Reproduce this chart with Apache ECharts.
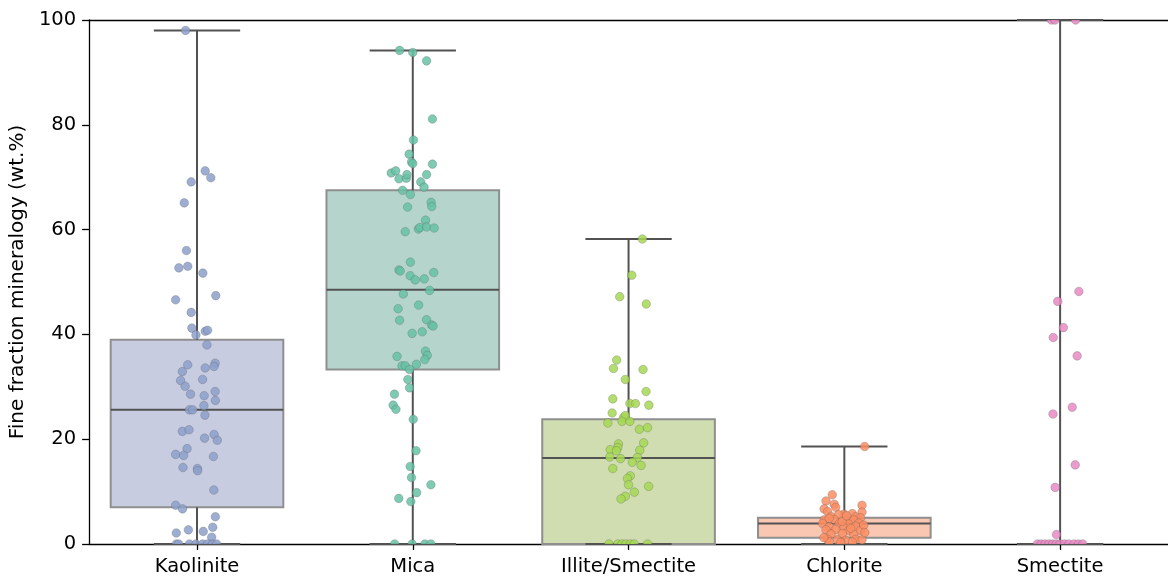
<!DOCTYPE html>
<html>
<head>
<meta charset="utf-8">
<script src="https://cdn.jsdelivr.net/npm/echarts@6/dist/echarts.min.js"></script>
<style>
html,body{margin:0;padding:0;background:#fff;}
#chart{width:1168px;height:577px;}
</style>
</head>
<body>
<div id="chart"></div>
<script>
const categories = ['Kaolinite', 'Mica', 'Illite/Smectite', 'Chlorite', 'Smectite'];
const yTicks = [0, 20, 40, 60, 80, 100];

// box statistics (whiskers at min / max)
const whiskerLow  = [0, 0, 0, 0, 0];
const q1          = [7.0, 33.3, 0, 1.2, 0];
const medians     = [25.6, 48.5, 16.4, 3.9, 0];
const q3          = [39.0, 67.5, 23.8, 5.0, 0];
const whiskerHigh = [98.0, 94.2, 58.2, 18.6, 100];

// individual samples (values) and their strip jitter (category units)
const kaoliniteValues = [98.0,71.2,69.9,69.1,65.1,56.0,52.7,53.0,51.7,47.4,46.6,44.2,41.2,40.6,40.8,39.9,38.0,34.2,34.5,33.6,33.9,32.9,31.2,31.4,30.1,28.6,28.3,29.1,27.4,26.4,25.6,25.6,24.6,21.5,21.8,20.2,20.9,19.8,18.2,17.1,16.9,16.7,14.6,14.4,14.0,10.3,7.4,6.7,5.2,3.2,2.1,2.7,2.4,1.3,0,0,0,0,0,0,0,0];
const kaoliniteJitter = [-0.053,0.038,0.064,-0.027,-0.059,-0.049,-0.084,-0.043,0.027,0.087,-0.099,-0.027,-0.024,0.038,0.049,-0.005,0.046,-0.043,0.084,0.038,0.079,-0.068,-0.076,0.026,-0.055,-0.030,0.033,0.084,0.085,0.032,-0.035,-0.020,0.037,-0.068,-0.037,0.035,0.079,0.094,-0.046,-0.099,-0.062,0.076,-0.065,0.002,0.003,0.078,-0.099,-0.067,0.085,0.073,-0.096,-0.040,0.029,0.068,-0.096,-0.085,-0.035,-0.005,0.026,0.049,0.072,0.091];

const micaValues = [94.2,93.8,92.2,81.1,77.1,74.4,72.9,72.6,72.5,70.8,71.2,69.7,69.8,70.5,70.5,69.1,68.1,67.5,66.7,64.3,65.2,64.4,61.8,59.6,60.1,60.4,60.5,60.3,53.8,52.3,52.1,51.2,50.4,50.6,51.8,47.7,48.4,44.9,45.6,42.7,42.8,41.8,41.6,40.2,40.5,36.8,36.0,35.8,35.2,34.0,34.0,34.3,33.3,31.4,29.8,28.6,26.5,25.7,23.8,17.8,14.8,12.7,11.3,9.8,8.7,8.1,0,0,0,0];
const micaJitter = [-0.061,0,0.064,0.091,0.003,-0.017,-0.006,0,0.091,-0.100,-0.079,-0.064,-0.030,-0.027,0.064,0.037,0.052,-0.047,-0.011,-0.024,0.085,0.088,0.059,-0.035,0.026,0.033,0.064,0.099,-0.011,-0.064,-0.058,-0.012,0.011,0.053,0.097,-0.044,0.078,-0.068,0.027,-0.061,0.064,0.087,0.094,-0.003,0.044,0.059,0.067,-0.073,0.056,-0.050,-0.035,0.017,-0.015,-0.023,-0.015,-0.085,-0.091,-0.078,0.002,0.015,-0.012,-0.006,0.084,0.018,-0.065,-0.009,-0.084,-0.003,0.056,0.084];

const illiteSmectiteValues = [58.2,51.3,47.2,45.8,35.1,33.5,33.3,31.4,29.1,27.7,26.8,26.8,26.5,25.0,24.1,24.5,23.1,23.4,23.4,21.9,22.2,19.1,18.4,19.3,18.0,17.8,17.9,16.6,16.3,16.5,15.6,15.0,14.4,13.0,12.5,11.3,11.0,9.9,9.1,8.6,0,0,0,0,0,0,0];
const illiteSmectiteJitter = [0.064,0.015,-0.041,0.082,-0.055,-0.070,0.067,-0.015,0.081,-0.073,0.006,0.032,0.094,-0.076,-0.024,-0.015,-0.096,-0.030,0.006,0.050,0.088,-0.047,-0.050,0.070,-0.085,-0.056,0.052,-0.087,-0.037,0.041,0.017,0.058,-0.073,0.008,-0.005,0,0.093,0.027,-0.015,-0.035,-0.091,-0.050,-0.030,-0.012,0.008,0.026,0.088];

const chloriteValues = [18.6,9.4,8.2,7.6,7.0,7.4,6.7,6.2,6.1,5.7,5.8,5.6,5.3,5.2,5.0,4.6,4.7,4.5,4.6,3.9,3.9,3.8,4.0,3.3,3.2,3.4,2.7,2.8,2.6,2.6,1.9,2.0,1.8,0.9,0.8,0.7,0.9,0.8,0.4,0.3,0.4,4.3,3.6,2.2,1.2,5.4,4.9,3.0];
const chloriteJitter = [0.094,-0.056,-0.085,-0.047,-0.040,0.082,-0.094,-0.078,0.082,-0.002,0.037,-0.027,-0.062,0.052,0.075,-0.093,-0.047,0.014,0.044,-0.101,-0.024,0.021,0.067,-0.070,-0.002,0.052,-0.085,-0.040,0.021,0.075,-0.062,-0.009,0.044,-0.078,-0.032,0.006,0.052,0.082,-0.070,-0.017,0.037,-0.010,0.090,0.095,-0.095,0.010,-0.070,0.030];

const smectiteValues = [100,100,100,48.2,46.3,41.3,39.4,35.9,26.1,24.8,15.1,10.8,1.8,0,0,0,0,0,0,0,0,0,0,0,0];
const smectiteJitter = [-0.040,-0.024,0.072,0.087,-0.011,0.015,-0.032,0.079,0.056,-0.033,0.070,-0.023,-0.017,-0.105,-0.088,-0.070,-0.052,-0.035,-0.018,0,0.020,0.040,0.065,0.085,0.105];

const pointValues = [kaoliniteValues, micaValues, illiteSmectiteValues, chloriteValues, smectiteValues];
const pointJitter = [kaoliniteJitter, micaJitter, illiteSmectiteJitter, chloriteJitter, smectiteJitter];

const pointColors = ['#8da0cb', '#66c2a5', '#a6d854', '#fc8d62', '#e78ac3'];
const boxFills = ['#c7cce0', '#b5d5cc', '#d0ddb1', '#f9c7b2', '#f3c8e0'];

const FONT = 'DejaVu Sans';
const chart = echarts.init(document.getElementById('chart'), null, {renderer: 'canvas'});

const boxData = categories.map((c, i) => [i, whiskerLow[i], q1[i], medians[i], q3[i], whiskerHigh[i]]);

function renderBox(params, api) {
  const i = api.value(0);
  const lo = api.value(1), a = api.value(2), m = api.value(3), b = api.value(4), hi = api.value(5);
  const w = api.size([0.8, 0])[0];
  const capW = api.size([0.4, 0])[0];
  const pLo = api.coord([i, lo]), pA = api.coord([i, a]), pM = api.coord([i, m]), pB = api.coord([i, b]), pHi = api.coord([i, hi]);
  const cx = pM[0];
  const lineStyle = {stroke: '#525252', lineWidth: 2};
  const children = [];
  if (Math.abs(pA[1] - pB[1]) > 0.5) {
    children.push({type: 'rect', shape: {x: cx - w / 2, y: pB[1], width: w, height: pA[1] - pB[1]},
      style: {fill: boxFills[i], stroke: '#8f8f8f', lineWidth: 2}});
  }
  children.push({type: 'line', shape: {x1: cx, y1: pB[1], x2: cx, y2: pHi[1]}, style: lineStyle});
  children.push({type: 'line', shape: {x1: cx, y1: pA[1], x2: cx, y2: pLo[1]}, style: lineStyle});
  children.push({type: 'line', shape: {x1: cx - capW / 2, y1: pHi[1], x2: cx + capW / 2, y2: pHi[1]}, style: lineStyle});
  children.push({type: 'line', shape: {x1: cx - capW / 2, y1: pLo[1], x2: cx + capW / 2, y2: pLo[1]}, style: lineStyle});
  if (Math.abs(pA[1] - pB[1]) > 0.5) {
    children.push({type: 'line', shape: {x1: cx - w / 2, y1: pM[1], x2: cx + w / 2, y2: pM[1]}, style: lineStyle});
  }
  return {type: 'group', children: children};
}

function renderPoint(params, api) {
  const p = api.coord([api.value(0), api.value(1)]);
  const i = api.value(2);
  return {
    type: 'circle',
    shape: {cx: p[0], cy: p[1], r: 4.3},
    style: {fill: pointColors[i], opacity: 0.85, stroke: 'rgba(90,90,90,0.55)', lineWidth: 0.6}
  };
}

const pointSeries = categories.map((c, i) => ({
  type: 'custom',
  name: c,
  xAxisIndex: 1,
  yAxisIndex: 0,
  clip: true,
  z: 5,
  silent: true,
  renderItem: renderPoint,
  encode: {x: 0, y: 1},
  data: pointValues[i].map((v, k) => [i + pointJitter[i][k], v, i])
}));

chart.setOption({
  animation: false,
  grid: {left: 86, top: 20, width: 1095, height: 526, containLabel: false},
  xAxis: [
    {
      type: 'category', data: categories, position: 'bottom', boundaryGap: true,
      axisLine: {show: true, onZero: false, lineStyle: {color: '#000', width: 1.3}},
      axisTick: {show: true, alignWithLabel: true, length: 6, lineStyle: {color: '#000', width: 1.3}},
      axisLabel: {color: '#000', fontSize: 19.5, fontFamily: FONT, margin: 13},
      splitLine: {show: false}
    },
    {
      type: 'value', min: -0.5, max: 4.5, position: 'top',
      axisLine: {show: true, onZero: false, lineStyle: {color: '#000', width: 1.3}},
      axisTick: {show: false}, axisLabel: {show: false}, splitLine: {show: false}
    }
  ],
  yAxis: [{
    type: 'value', min: yTicks[0], max: yTicks[yTicks.length - 1], interval: 20,
    name: 'Fine fraction mineralogy (wt.%)', nameLocation: 'middle', nameGap: 58,
    nameTextStyle: {color: '#000', fontSize: 20, fontFamily: FONT},
    axisLine: {show: true, onZero: false, lineStyle: {color: '#000', width: 1.3}},
    axisTick: {show: true, length: 7, lineStyle: {color: '#000', width: 1.3}},
    axisLabel: {color: '#000', fontSize: 19.5, fontFamily: FONT, margin: 13},
    splitLine: {show: false}
  }],
  series: [{
    type: 'custom', xAxisIndex: 1, yAxisIndex: 0, z: 2, silent: true,
    renderItem: renderBox,
    encode: {x: 0, y: [1, 2, 3, 4, 5]},
    data: boxData
  }].concat(pointSeries)
});
</script>
</body>
</html>
